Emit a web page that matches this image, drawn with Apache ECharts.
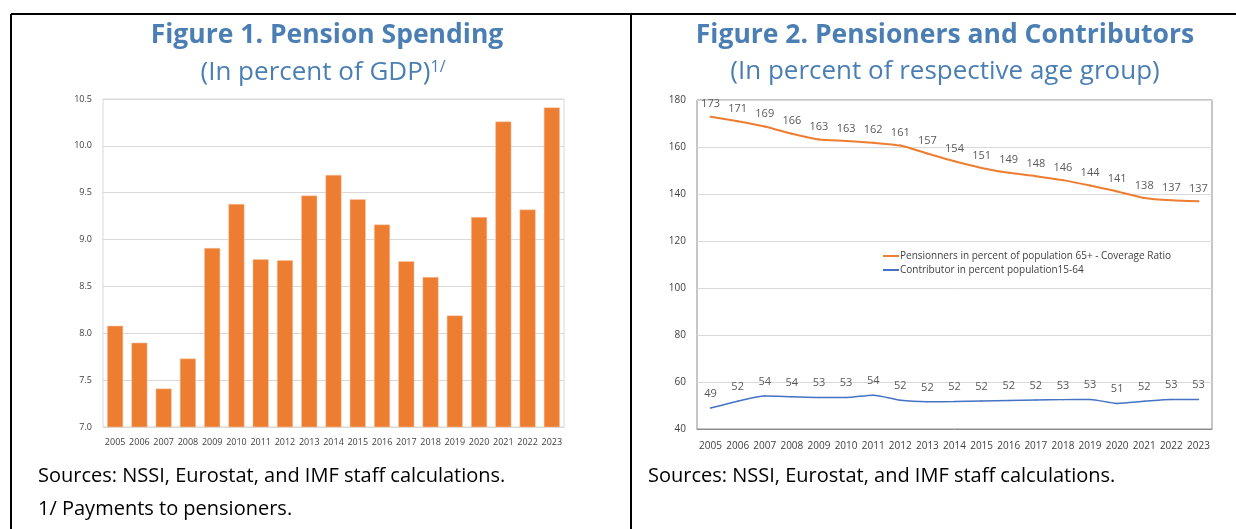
<!DOCTYPE html>
<html>
<head>
<meta charset="utf-8">
<script src="https://cdn.jsdelivr.net/npm/echarts@6/dist/echarts.min.js"></script>
<style>
  html, body { margin: 0; padding: 0; background: #fff; }
  #chart { width: 1236px; height: 529px; }
</style>
</head>
<body>
<div id="chart"></div>
<script>
// data
const years = ["2005", "2006", "2007", "2008", "2009", "2010", "2011", "2012", "2013", "2014",
  "2015", "2016", "2017", "2018", "2019", "2020", "2021", "2022", "2023"];
const spending = [8.08, 7.90, 7.41, 7.73, 8.91, 9.38, 8.79, 8.78, 9.47, 9.69,
  9.43, 9.16, 8.77, 8.60, 8.19, 9.24, 10.26, 9.32, 10.41];
const pensioners = [172.9, 171.0, 168.7, 165.6, 163.2, 162.6, 161.8, 160.6, 157.2, 153.9,
  151.1, 149.0, 147.6, 145.9, 143.6, 141.1, 138.3, 137.3, 136.9];
const contributors = [48.9, 51.8, 54.0, 53.7, 53.4, 53.4, 54.4, 52.2, 51.6, 51.7,
  51.9, 52.1, 52.3, 52.5, 52.6, 50.9, 51.8, 52.6, 52.6];
const pensionerName = "Pensionners in percent of population 65+ - Coverage Ratio";
const contributorName = "Contributor in percent population15-64";

const FONT = "'Open Sans', sans-serif";
const titleBlue = "#4b7fb4";
const axisText = "#404040";

const chart = echarts.init(document.getElementById("chart"));

chart.setOption({
  animation: false,
  textStyle: { fontFamily: FONT },
  title: [
    {
      text: "Figure 1. Pension Spending",
      left: 322, top: 17, textAlign: "center",
      textStyle: { fontSize: 26.5, fontWeight: "bold", color: titleBlue, fontFamily: FONT }
    },
    {
      text: "(In percent of GDP){sup|1/}",
      left: 318, top: 54, textAlign: "center",
      textStyle: {
        fontSize: 26, fontWeight: "normal", color: titleBlue, fontFamily: FONT,
        rich: { sup: { fontSize: 16, color: titleBlue, verticalAlign: "top", padding: [0, 0, 12, 0] } }
      }
    },
    {
      text: "Figure 2. Pensioners and Contributors",
      left: 940, top: 17, textAlign: "center",
      textStyle: { fontSize: 26.5, fontWeight: "bold", color: titleBlue, fontFamily: FONT }
    },
    {
      text: "(In percent of respective age group)",
      left: 940, top: 54, textAlign: "center",
      textStyle: { fontSize: 26, fontWeight: "normal", color: titleBlue, fontFamily: FONT }
    },
    {
      text: "Sources: NSSI, Eurostat, and IMF staff calculations.",
      left: 33, top: 461,
      textStyle: { fontSize: 20, fontWeight: "normal", color: "#000", fontFamily: FONT }
    },
    {
      text: "1/ Payments to pensioners.",
      left: 33, top: 494,
      textStyle: { fontSize: 20, fontWeight: "normal", color: "#000", fontFamily: FONT }
    },
    {
      text: "Sources: NSSI, Eurostat, and IMF staff calculations.",
      left: 643, top: 461,
      textStyle: { fontSize: 20, fontWeight: "normal", color: "#000", fontFamily: FONT }
    }
  ],
  graphic: [
    { type: "line", shape: { x1: 11, y1: 14, x2: 1236, y2: 14 }, style: { stroke: "#000", lineWidth: 2 } },
    { type: "line", shape: { x1: 11, y1: 14, x2: 11, y2: 529 }, style: { stroke: "#000", lineWidth: 2 } },
    { type: "line", shape: { x1: 631, y1: 14, x2: 631, y2: 529 }, style: { stroke: "#000", lineWidth: 2 } }
  ],
  legend: {
    orient: "vertical",
    left: 883, top: 251,
    itemWidth: 16, itemHeight: 2, itemGap: 4,
    padding: 0,
    icon: "rect",
    textStyle: { fontSize: 10, color: axisText, padding: [0, 0, 0, -4] },
    data: [pensionerName, contributorName]
  },
  grid: [
    { left: 103, top: 99, width: 461, height: 328, show: true, borderColor: "#d9d9d9", borderWidth: 1 },
    { left: 697, top: 100, width: 515, height: 329, show: true, borderColor: "#8c8c8c", borderWidth: 1 }
  ],
  xAxis: [
    {
      type: "category", gridIndex: 0, data: years,
      axisTick: { show: false },
      axisLine: { lineStyle: { color: "#d9d9d9" } },
      axisLabel: { interval: 0, fontSize: 9, color: axisText, margin: 11 }
    },
    {
      type: "category", gridIndex: 1, data: years,
      axisTick: { show: false },
      axisLine: { lineStyle: { color: "#8c8c8c" } },
      axisLabel: { interval: 0, fontSize: 10, color: axisText, margin: 12 }
    }
  ],
  yAxis: [
    {
      type: "value", gridIndex: 0, min: 7, max: 10.5, interval: 0.5,
      axisLine: { show: false }, axisTick: { show: false },
      splitLine: { lineStyle: { color: "#d9d9d9" } },
      axisLabel: { fontSize: 9, color: axisText, margin: 11, formatter: v => v.toFixed(1) }
    },
    {
      type: "value", gridIndex: 1, min: 40, max: 180, interval: 20,
      axisLine: { show: false }, axisTick: { show: false },
      splitLine: { lineStyle: { color: "#d9d9d9" } },
      axisLabel: { fontSize: 10, color: axisText, margin: 11 }
    }
  ],
  series: [
    {
      name: "Pension spending",
      type: "bar",
      xAxisIndex: 0, yAxisIndex: 0,
      data: spending,
      barWidth: 16,
      itemStyle: { color: "#ed7d31", borderColor: "#f8cbad", borderWidth: 0.5 }
    },
    {
      name: pensionerName,
      type: "line",
      xAxisIndex: 1, yAxisIndex: 1,
      data: pensioners,
      smooth: 0.25,
      symbol: "circle",
      symbolSize: 2,
      lineStyle: { color: "#ed7d31", width: 2 },
      itemStyle: { color: "#ed7d31" },
      label: {
        show: true, position: "top", distance: 6,
        fontSize: 11, color: "#595959",
        formatter: p => Math.round(p.value)
      }
    },
    {
      name: contributorName,
      type: "line",
      xAxisIndex: 1, yAxisIndex: 1,
      data: contributors,
      smooth: 0.25,
      symbol: "circle",
      symbolSize: 1.5,
      lineStyle: { color: "#4472c4", width: 1.5 },
      itemStyle: { color: "#4472c4" },
      label: {
        show: true, position: "top", distance: 8,
        fontSize: 11, color: "#595959",
        formatter: p => Math.round(p.value)
      }
    }
  ]
});
</script>
</body>
</html>
